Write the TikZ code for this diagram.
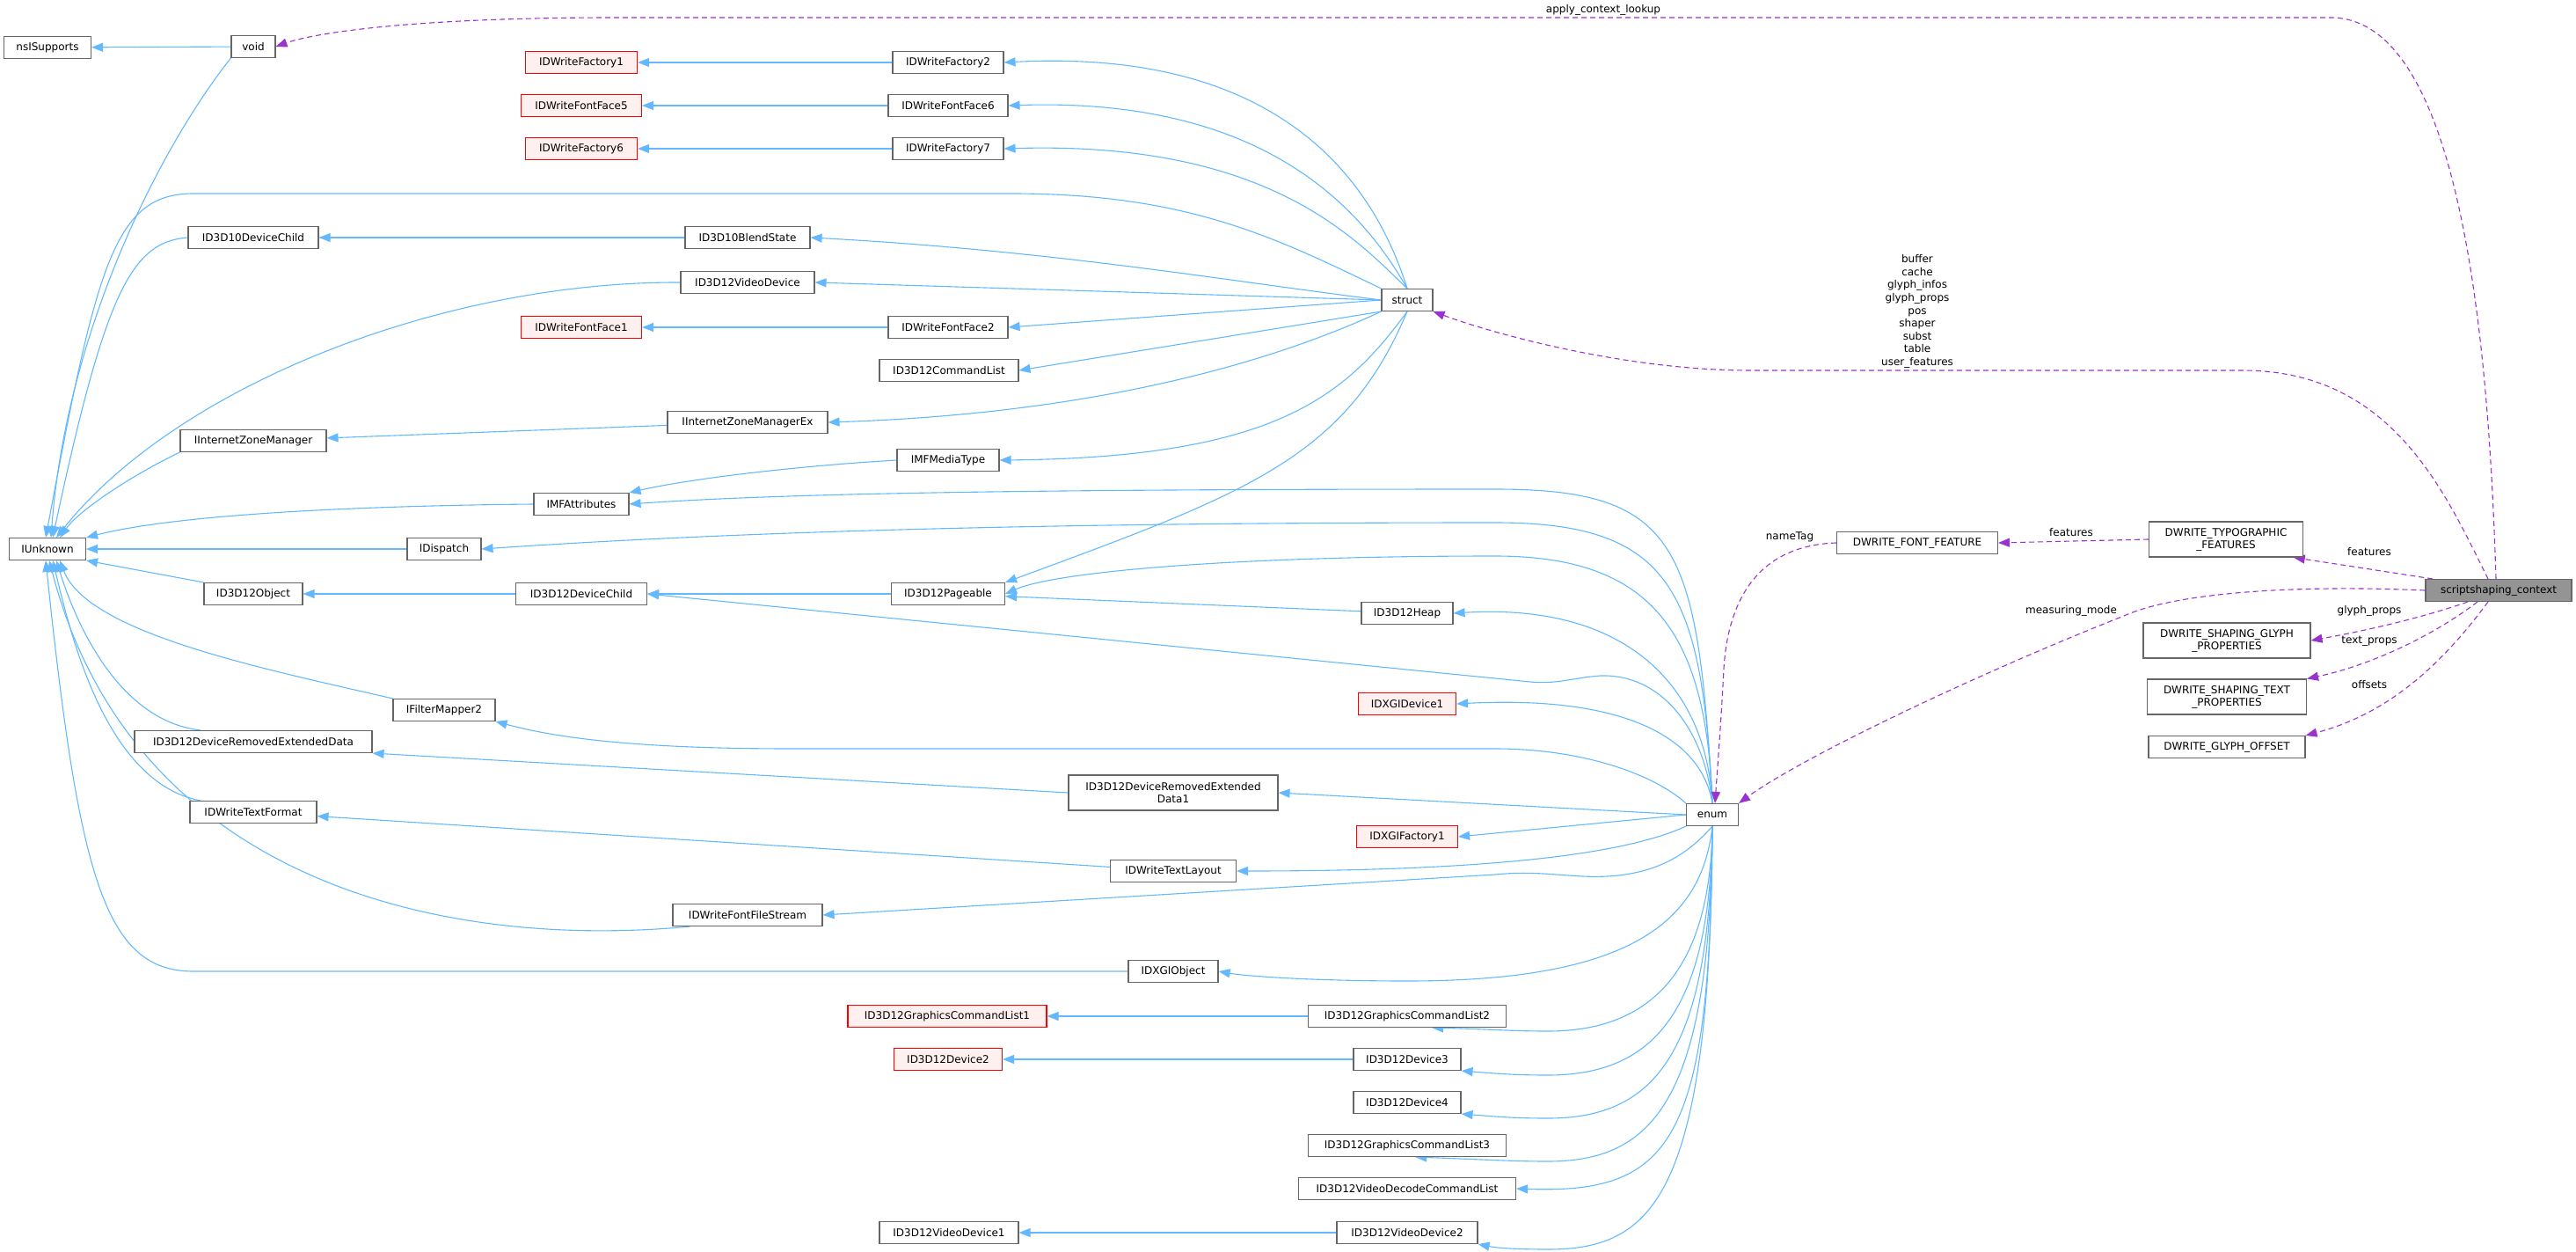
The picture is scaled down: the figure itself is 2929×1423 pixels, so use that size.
\documentclass[tikz,border=0pt]{standalone}
\usepackage{fontspec}
\setmainfont{DejaVu Sans}
\usetikzlibrary{arrows.meta,backgrounds}
\definecolor{eblue}{HTML}{63B8FF}
\definecolor{epurp}{HTML}{9A32CD}
\definecolor{bgray}{HTML}{666666}
\begin{document}
\begin{tikzpicture}[x=1pt,y=-1pt,
  every node/.style={font=\fontsize{12}{14}\selectfont},
  box/.style={draw=bgray,line width=1.1pt,fill=white,minimum height=25pt,inner xsep=2pt,inner ysep=2pt,align=center},
  red/.style={box,draw=red,fill=red!6},
  two/.style={minimum height=40pt},
  inh/.style={draw=eblue,line width=1.1pt,-{Triangle[length=13pt,width=10pt]}},
  use/.style={draw=epurp,line width=1.1pt,dash pattern=on 6pt off 4pt,-{Triangle[length=13pt,width=10pt]}},
  lab/.style={inner sep=0pt}]
\path[use as bounding box] (0,0) rectangle (2929,1423);
% nodes
\node[box,minimum width=99] (nsi) at (54,54) {nsISupports};
\node[box,minimum width=50] (void) at (288,53) {void};
\node[red,minimum width=127] (f1) at (661,71) {IDWriteFactory1};
\node[red,minimum width=137] (ff5) at (661,120) {IDWriteFontFace5};
\node[red,minimum width=127] (f6) at (661,169) {IDWriteFactory6};
\node[box,minimum width=148] (d10c) at (288,270) {ID3D10DeviceChild};
\node[box,minimum width=142] (d10b) at (850,270) {ID3D10BlendState};
\node[box,minimum width=152] (vd) at (850,321) {ID3D12VideoDevice};
\node[red,minimum width=137] (ff1) at (661,372) {IDWriteFontFace1};
\node[box,minimum width=182] (izmx) at (850,480) {IInternetZoneManagerEx};
\node[box,minimum width=166] (izm) at (288,501) {IInternetZoneManager};
\node[box,minimum width=108] (mfa) at (661,573) {IMFAttributes};
\node[box,minimum width=87] (iu) at (54,624) {IUnknown};
\node[box,minimum width=84] (idisp) at (505,624) {IDispatch};
\node[box,minimum width=112] (obj) at (288,675) {ID3D12Object};
\node[box,minimum width=149] (dc) at (661,675) {ID3D12DeviceChild};
\node[box,minimum width=116] (fm) at (505,807) {IFilterMapper2};
\node[box,minimum width=270] (dred) at (288,843) {ID3D12DeviceRemovedExtendedData};
\node[box,minimum width=144] (tf) at (288,923) {IDWriteTextFormat};
\node[box,minimum width=170] (ffs) at (850,1040) {IDWriteFontFileStream};
\node[box,minimum width=126] (f2) at (1078,71) {IDWriteFactory2};
\node[box,minimum width=136] (ff6) at (1078,120) {IDWriteFontFace6};
\node[box,minimum width=126] (f7) at (1078,169) {IDWriteFactory7};
\node[box,minimum width=58] (struct) at (1600,341) {struct};
\node[box,minimum width=136] (ff2) at (1078,372) {IDWriteFontFace2};
\node[box,minimum width=158] (cl) at (1079,421) {ID3D12CommandList};
\node[box,minimum width=116] (mft) at (1078,523) {IMFMediaType};
\node[box,minimum width=129] (pg) at (1078,675) {ID3D12Pageable};
\node[box,minimum width=104] (heap) at (1600,697) {ID3D12Heap};
\node[red,minimum width=111] (xd1) at (1600,800) {IDXGIDevice1};
\node[box,two,minimum width=238] (dred1) at (1334,901) {ID3D12DeviceRemovedExtended\\Data1};
\node[red,minimum width=115] (xf1) at (1600,951) {IDXGIFactory1};
\node[box,minimum width=143] (tl) at (1334,990) {IDWriteTextLayout};
\node[box,minimum width=59] (enum) at (1947,926) {enum};
\node[box,minimum width=102] (xo) at (1334,1104) {IDXGIObject};
\node[red,minimum width=226] (gcl1) at (1077,1155) {ID3D12GraphicsCommandList1};
\node[box,minimum width=225] (gcl2) at (1600,1155) {ID3D12GraphicsCommandList2};
\node[red,minimum width=123] (dev2) at (1078,1204) {ID3D12Device2};
\node[box,minimum width=122] (dev3) at (1600,1204) {ID3D12Device3};
\node[box,minimum width=122] (dev4) at (1600,1253) {ID3D12Device4};
\node[box,minimum width=225] (gcl3) at (1600,1302) {ID3D12GraphicsCommandList3};
\node[box,minimum width=247] (vdcl) at (1600,1351) {ID3D12VideoDecodeCommandList};
\node[box,minimum width=160] (vd2) at (1600,1401) {ID3D12VideoDevice2};
\node[box,minimum width=158] (vd1) at (1079,1401) {ID3D12VideoDevice1};
\node[box,minimum width=183] (ff) at (2180,617) {DWRITE\_FONT\_FEATURE};
\node[box,two,minimum width=175] (typo) at (2531,613) {DWRITE\_TYPOGRAPHIC\\\_FEATURES};
\node[box,minimum width=166,fill=bgray!70] (ctx) at (2841,671) {scriptshaping\_context};
\node[box,two,minimum width=190] (gp) at (2532,728) {DWRITE\_SHAPING\_GLYPH\\\_PROPERTIES};
\node[box,two,minimum width=181] (tp) at (2532,792) {DWRITE\_SHAPING\_TEXT\\\_PROPERTIES};
\node[box,minimum width=178] (go) at (2532,849) {DWRITE\_GLYPH\_OFFSET};
% labels
\node[lab] (l1) at (1823,11) {apply\_context\_lookup};
\node[lab,align=center,font=\fontsize{12}{14.6}\selectfont] (l2) at (2180,354) {buffer\\cache\\glyph\_infos\\glyph\_props\\pos\\shaper\\subst\\table\\user\_features};
\node[lab] (l3) at (2035,610) {nameTag};
\node[lab] (l4) at (2355,605) {features};
\node[lab] (l5) at (2694,627) {features};
\node[lab] (l6) at (2355,694) {measuring\_mode};
\node[lab] (l7) at (2694,694) {glyph\_props};
\node[lab] (l8) at (2694,729) {text\_props};
\node[lab] (l9) at (2694,778) {offsets};
\begin{scope}[on background layer]
% inheritance edges
\draw[inh] (void) -- (nsi);
\draw[inh] (void.south west) .. controls (180,170) and (75,380) .. ([xshift=4pt]iu.north);
\draw[inh] (f2) -- (f1);
\draw[inh] (ff6) -- (ff5);
\draw[inh] (f7) -- (f6);
\draw[inh] (d10b) -- (d10c);
\draw[inh] (d10c.west) .. controls (150,275) and (120,330) .. ([xshift=6pt]iu.north);
\draw[inh] (vd.west) .. controls (500,320) and (200,440) .. ([xshift=10pt]iu.north);
\draw[inh] (ff2) -- (ff1);
\draw[inh] (izmx) -- (izm);
\draw[inh] (izm.south west) .. controls (150,540) and (90,580) .. ([xshift=14pt]iu.north);
\draw[inh] (mft.west) .. controls (900,530) and (780,545) .. (mfa.north east);
\draw[inh] (mfa.west) .. controls (400,575) and (200,585) .. (iu.north east);
\draw[inh] (idisp) -- (iu);
\draw[inh] (obj.north west) -- (iu.south east);
\draw[inh] (dc) -- (obj);
\draw[inh] (pg) -- (dc);
\draw[inh] (heap) -- (pg);
\draw[inh] (fm.north west) .. controls (300,760) and (100,720) .. ([xshift=14pt]iu.south);
\draw[inh] ([xshift=-60pt]dred.north) .. controls (140,820) and (90,720) .. ([xshift=10pt]iu.south);
\draw[inh] ([xshift=-60pt]tf.north) .. controls (120,890) and (80,720) .. ([xshift=6pt]iu.south);
\draw[inh] ([xshift=20pt]ffs.south west) .. controls (500,1080) and (150,1000) .. ([xshift=2pt]iu.south);
\draw[inh] (xo.west) -- (220,1104) .. controls (120,1104) and (90,1000) .. ([xshift=-2pt]iu.south);
\draw[inh] (dred1.west) -- (dred.south east);
\draw[inh] (tl) -- (tf);
\draw[inh] (gcl2) -- (gcl1);
\draw[inh] (dev3) -- (dev2);
\draw[inh] (vd2) -- (vd1);
% struct edges
\draw[inh] (struct.north) .. controls (1560,200) and (1450,55) .. (f2.east);
\draw[inh] (struct.north) .. controls (1550,240) and (1440,110) .. (ff6.east);
\draw[inh] (struct.north) .. controls (1540,270) and (1440,160) .. (f7.east);
\draw[inh] (struct.north west) .. controls (1450,270) and (1350,220) .. (1150,220) -- (220,220) .. controls (130,220) and (110,300) .. ([xshift=-2pt]iu.north);
\draw[inh] (struct.west) .. controls (1400,320) and (1200,285) .. (d10b.east);
\draw[inh] (struct.west) -- (vd.east);
\draw[inh] (struct.west) -- (ff2.east);
\draw[inh] (struct.south west) -- (cl.east);
\draw[inh] (struct.south west) .. controls (1450,410) and (1250,470) .. (izmx.east);
\draw[inh] (struct.south) .. controls (1530,450) and (1450,520) .. (mft.east);
\draw[inh] (struct.south) .. controls (1530,520) and (1420,560) .. (pg.north east);
% enum edges
\draw[inh] (enum.north) .. controls (1930,620) and (1910,556) .. (1700,556) .. controls (1200,556) and (900,560) .. (mfa.east);
\draw[inh] (enum.north) .. controls (1935,670) and (1900,594) .. (1700,594) .. controls (1300,594) and (900,600) .. (idisp.east);
\draw[inh] (enum.north) .. controls (1940,720) and (1880,632) .. (1700,632) .. controls (1400,632) and (1200,650) .. (pg.east);
\draw[inh] (enum.north) .. controls (1940,780) and (1850,685) .. (heap.east);
\draw[inh] (enum.north) .. controls (1938,830) and (1890,766) .. (1820,768) .. controls (1790,770) and (1770,778) .. (1740,775) -- (dc.east);
\draw[inh] (enum.north) .. controls (1935,840) and (1850,790) .. (xd1.east);
\draw[inh] (enum.north west) .. controls (1880,880) and (1800,851) .. (1700,851) -- (900,851) .. controls (700,851) and (620,835) .. (fm.south east);
\draw[inh] (enum.west) -- (dred1.east);
\draw[inh] (enum.west) -- (xf1.east);
\draw[inh] (enum.south west) .. controls (1850,970) and (1700,990) .. (tl.east);
\draw[inh] (enum.south) .. controls (1920,970) and (1880,1000) .. (1800,996) .. controls (1760,994) and (1740,990) .. (1700,994) -- (ffs.east);
\draw[inh] (enum.south) .. controls (1935,1050) and (1850,1115) .. (1600,1115) .. controls (1500,1115) and (1420,1110) .. (xo.east);
\draw[inh] (enum.south) .. controls (1945,1100) and (1880,1172) .. (1760,1172) .. controls (1720,1172) and (1700,1170) .. (gcl2.-25);
\draw[inh] (enum.south) .. controls (1945,1150) and (1880,1222) .. (1760,1222) .. controls (1720,1222) and (1700,1220) .. (dev3.south east);
\draw[inh] (enum.south) .. controls (1945,1200) and (1880,1271) .. (1760,1271) .. controls (1720,1271) and (1700,1269) .. (dev4.south east);
\draw[inh] (enum.south) .. controls (1945,1250) and (1880,1320) .. (1760,1320) .. controls (1720,1320) and (1690,1318) .. (gcl3.-55);
\draw[inh] (enum.south) .. controls (1945,1300) and (1900,1357) .. (vdcl.east);
\draw[inh] (enum.south) .. controls (1945,1360) and (1880,1420) .. (1760,1420) .. controls (1720,1420) and (1700,1418) .. (vd2.south east);
% usage edges
\draw[use] ([xshift=-3pt]ctx.north) .. controls (2830,400) and (2800,20) .. (2650,20) -- (700,20) .. controls (450,20) and (350,40) .. (void.east);
\draw[use] ([xshift=-12pt]ctx.north) .. controls (2780,560) and (2720,421) .. (2550,421) -- (1990,421) .. controls (1850,421) and (1700,380) .. (struct.south east);
\draw[use] ([xshift=-75pt]ctx.north) -- (typo.-15);
\draw[use] (typo.west) -- (ff.east);
\draw[use] (ctx.west) .. controls (2600,664) and (2470,675) .. (2415,700) .. controls (2250,765) and (2050,860) .. (enum.north east);
\draw[use] (ff.west) .. controls (2000,620) and (1965,680) .. (1960,760) .. controls (1957,820) and (1953,870) .. ([xshift=3pt]enum.north);
\draw[use] ([xshift=-35pt]ctx.south) .. controls (2760,700) and (2700,715) .. (gp.east);
\draw[use] ([xshift=-24pt]ctx.south) .. controls (2770,720) and (2700,755) .. (tp.north east);
\draw[use] ([xshift=-12pt]ctx.south) .. controls (2780,750) and (2720,810) .. (go.north east);
\end{scope}
\end{tikzpicture}
\end{document}
